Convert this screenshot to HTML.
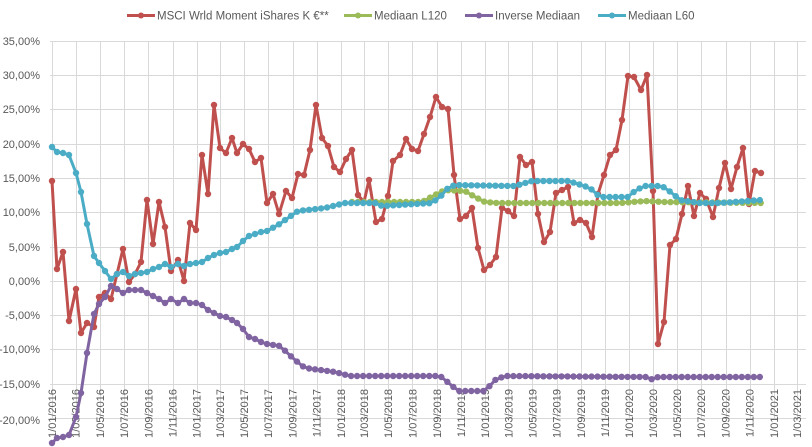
<!DOCTYPE html>
<html><head><meta charset="utf-8"><style>
html,body{margin:0;padding:0;background:#fff;}
svg{display:block;font-family:"Liberation Sans",sans-serif;}
.yl{font-size:11px;fill:#595959;text-anchor:end;}
.xl{font-size:11px;fill:#595959;text-anchor:end;}
.lg{font-size:11.5px;fill:#595959;}
</style></head><body>
<svg id="c" width="812" height="447" viewBox="0 0 812 447" xmlns="http://www.w3.org/2000/svg">
<g stroke="#d9d9d9" stroke-width="1" id="grid">
<line x1="50" x2="806" y1="41.5" y2="41.5"/><line x1="50" x2="806" y1="75.5" y2="75.5"/>
<line x1="50" x2="806" y1="109.5" y2="109.5"/><line x1="50" x2="806" y1="144.5" y2="144.5"/>
<line x1="50" x2="806" y1="178.5" y2="178.5"/><line x1="50" x2="806" y1="212.5" y2="212.5"/>
<line x1="50" x2="806" y1="247.5" y2="247.5"/><line x1="50" x2="806" y1="281.5" y2="281.5"/>
<line x1="50" x2="806" y1="315.5" y2="315.5"/><line x1="50" x2="806" y1="349.5" y2="349.5"/>
<line x1="50" x2="806" y1="384.5" y2="384.5"/><line x1="50" x2="806" y1="418.5" y2="418.5"/>
</g>
<g class="yl">
<text x="40" y="45">35,00%</text><text x="40" y="79">30,00%</text><text x="40" y="113">25,00%</text>
<text x="40" y="148">20,00%</text><text x="40" y="182">15,00%</text><text x="40" y="216">10,00%</text>
<text x="40" y="251">5,00%</text><text x="40" y="285">0,00%</text><text x="40" y="319">-5,00%</text>
<text x="40" y="353">-10,00%</text><text x="40" y="388">-15,00%</text><text x="40" y="424">-20,00%</text>
</g>
<g class="xl">
<text transform="translate(56,389) rotate(-90)">1/01/2016</text>
<text transform="translate(79.7,389) rotate(-90)">1/03/2016</text>
<text transform="translate(103.8,389) rotate(-90)">1/05/2016</text>
<text transform="translate(127.9,389) rotate(-90)">1/07/2016</text>
<text transform="translate(152.4,389) rotate(-90)">1/09/2016</text>
<text transform="translate(176.5,389) rotate(-90)">1/11/2016</text>
<text transform="translate(200.6,389) rotate(-90)">1/01/2017</text>
<text transform="translate(223.9,389) rotate(-90)">1/03/2017</text>
<text transform="translate(248,389) rotate(-90)">1/05/2017</text>
<text transform="translate(272.1,389) rotate(-90)">1/07/2017</text>
<text transform="translate(296.6,389) rotate(-90)">1/09/2017</text>
<text transform="translate(320.7,389) rotate(-90)">1/11/2017</text>
<text transform="translate(344.8,389) rotate(-90)">1/01/2018</text>
<text transform="translate(368.1,389) rotate(-90)">1/03/2018</text>
<text transform="translate(392.2,389) rotate(-90)">1/05/2018</text>
<text transform="translate(416.3,389) rotate(-90)">1/07/2018</text>
<text transform="translate(440.8,389) rotate(-90)">1/09/2018</text>
<text transform="translate(464.9,389) rotate(-90)">1/11/2018</text>
<text transform="translate(489,389) rotate(-90)">1/01/2019</text>
<text transform="translate(512.3,389) rotate(-90)">1/03/2019</text>
<text transform="translate(536.4,389) rotate(-90)">1/05/2019</text>
<text transform="translate(560.5,389) rotate(-90)">1/07/2019</text>
<text transform="translate(585,389) rotate(-90)">1/09/2019</text>
<text transform="translate(609.1,389) rotate(-90)">1/11/2019</text>
<text transform="translate(633.2,389) rotate(-90)">1/01/2020</text>
<text transform="translate(656.9,389) rotate(-90)">1/03/2020</text>
<text transform="translate(681,389) rotate(-90)">1/05/2020</text>
<text transform="translate(705.1,389) rotate(-90)">1/07/2020</text>
<text transform="translate(729.6,389) rotate(-90)">1/09/2020</text>
<text transform="translate(753.7,389) rotate(-90)">1/11/2020</text>
<text transform="translate(777.8,389) rotate(-90)">1/01/2021</text>
<text transform="translate(801.1,389) rotate(-90)">1/03/2021</text>
</g>
<g id="series"></g>
<g>
<line x1="127" x2="155" y1="15.5" y2="15.5" stroke="#c0504d" stroke-width="3"/><circle cx="141" cy="15.5" r="3" fill="#c0504d"/>
<text class="lg" x="157" y="19.5">MSCI Wrld Moment iShares K €**</text>
<line x1="344" x2="372" y1="15.5" y2="15.5" stroke="#9bbb59" stroke-width="3"/><circle cx="358" cy="15.5" r="3" fill="#9bbb59"/>
<text class="lg" x="374" y="19.5">Mediaan L120</text>
<line x1="465" x2="493" y1="15.5" y2="15.5" stroke="#8064a2" stroke-width="3"/><circle cx="479" cy="15.5" r="3" fill="#8064a2"/>
<text class="lg" x="495" y="19.5">Inverse Mediaan</text>
<line x1="598" x2="626" y1="15.5" y2="15.5" stroke="#4bacc6" stroke-width="3"/><circle cx="612" cy="15.5" r="3" fill="#4bacc6"/>
<text class="lg" x="628" y="19.5">Mediaan L60</text>
</g>
</svg>
<script>
(function(){
var vx=[52,75.7,99.8,123.9,148.4,172.5,196.6,219.9,244,268.1,292.6,316.7,340.8,364.1,388.2,412.3,436.8,460.9,485,508.3,532.4,556.5,581,605.1,629.2,652.9,677,701.1,725.6,749.7,773.8,797.1];
var g=document.getElementById('grid'),NS="http://www.w3.org/2000/svg";
vx.forEach(function(x){var l=document.createElementNS(NS,'line');x=Math.round(x)+0.5;l.setAttribute('x1',x);l.setAttribute('x2',x);l.setAttribute('y1',41);l.setAttribute('y2',418);g.appendChild(l);});
var red=[[52,181],[57,269],[63,252],[69,321],[76,289],[81,333],[87,323],[94,327],[99,297],[105,293],[111,299],[117,274],[123,249],[129,282],[135,274],[141,262],[147,200],[153,244],[159,202],[165,227],[171,271],[178,260],[184,281],[190,223],[196,230],[202,155],[208,194],[214,105],[220,148],[226,153],[232,138],[237,153],[243,144],[249,149],[255,162],[261,158],[267,203],[273,194],[279,214],[286,191],[292,198],[298,174],[304,175],[310,150],[316,105],[322,138],[328,146],[334,167],[340,172],[346,159],[352,150],[358,195],[364,202],[369,180],[376,222],[382,219],[388,196],[393,161],[400,155],[406,139],[412,149],[418,151],[424,134],[430,117],[436,97],[442,107],[448,109],[454,175],[460,219],[466,216],[472,208],[478,248],[484,270],[490,265],[496,257],[502,208],[508,211],[514,216],[520,157],[526,165],[532,162],[538,214],[544,242],[550,232],[556,193],[562,190],[568,187],[574,223],[580,220],[586,223],[592,237],[598,194],[604,175],[610,155],[616,150],[622,120],[628,76],[634,77],[641,90],[647,75],[653,191],[658,344],[664,322],[670,245],[676,239],[682,214],[688,186],[694,216],[700,193],[706,199],[713,217],[719,188],[725,163],[731,189],[737,167],[743,148],[749,204],[755,171],[761,173]];
function interp(bp,x0,x1){var out=[];for(var x=x0;x<=x1+0.01;x+=6.01){var y=bp[bp.length-1][1];for(var i=0;i<bp.length-1;i++){if(x>=bp[i][0]&&x<=bp[i+1][0]){var t=(x-bp[i][0])/(bp[i+1][0]-bp[i][0]);y=bp[i][1]+t*(bp[i+1][1]-bp[i][1]);break;}}out.push([x,y]);}return out;}
var cyanA=[[52,147],[57,152],[63,153],[69,155],[76,173],[81,192],[87,224],[94,256],[99,263],[105,271],[111,279],[117,274],[123,272],[129,276],[135,274],[141,273],[147,272],[153,269],[159,267],[165,264],[171,267],[178,264],[184,266],[190,264],[196,263],[202,262],[208,258],[214,255],[220,253],[226,252],[232,249],[237,247],[243,241],[249,236],[255,234],[261,232],[267,231]];
var cyanB=interp([[267,231],[278,225],[288,218],[298,211],[325,208],[345,203],[375,203],[382,206],[432,203],[442,195],[448,188],[455,185],[515,186],[532,181],[568,181],[575,183],[590,188],[600,197],[628,197],[636,190],[645,186],[662,186],[672,193],[680,200],[700,203],[720,203],[761,200]],273,761);
var purA=[[52,443],[57,438],[63,437],[69,435],[76,417],[81,393],[87,353],[94,314],[99,304],[105,297],[111,286],[117,289],[123,293],[129,290],[135,290],[141,290],[147,293],[153,296],[159,299],[165,303],[171,299],[178,303],[184,299],[190,303],[196,303],[202,305],[208,310],[214,313],[220,316],[226,317],[232,320],[237,323],[243,329],[249,337],[255,339],[261,342],[267,344]];
var purB=interp([[267,344],[280,346],[295,360],[305,368],[335,372],[350,376],[440,376],[450,384],[458,391],[485,391],[495,380],[505,376],[648,377],[653,380],[658,377],[761,377]],273,761);
var green=interp([[350,202],[422,202],[435,195],[445,190],[465,191],[475,197],[485,202],[498,203],[620,203],[645,201],[665,202],[761,203]],352,761);
var s=document.getElementById('series');
function draw(pts,c){var p=document.createElementNS(NS,'polyline');p.setAttribute('points',pts.map(function(a){return a[0].toFixed(1)+','+a[1].toFixed(1)}).join(' '));p.setAttribute('fill','none');p.setAttribute('stroke',c);p.setAttribute('stroke-width','3');p.setAttribute('stroke-linejoin','round');s.appendChild(p);pts.forEach(function(a){var ci=document.createElementNS(NS,'circle');ci.setAttribute('cx',a[0].toFixed(1));ci.setAttribute('cy',a[1].toFixed(1));ci.setAttribute('r','3.2');ci.setAttribute('fill',c);s.appendChild(ci);});}
draw(red,'#c0504d');draw(green,'#9bbb59');draw(purA.concat(purB),'#8064a2');draw(cyanA.concat(cyanB),'#4bacc6');
})();
</script>
</body></html>
